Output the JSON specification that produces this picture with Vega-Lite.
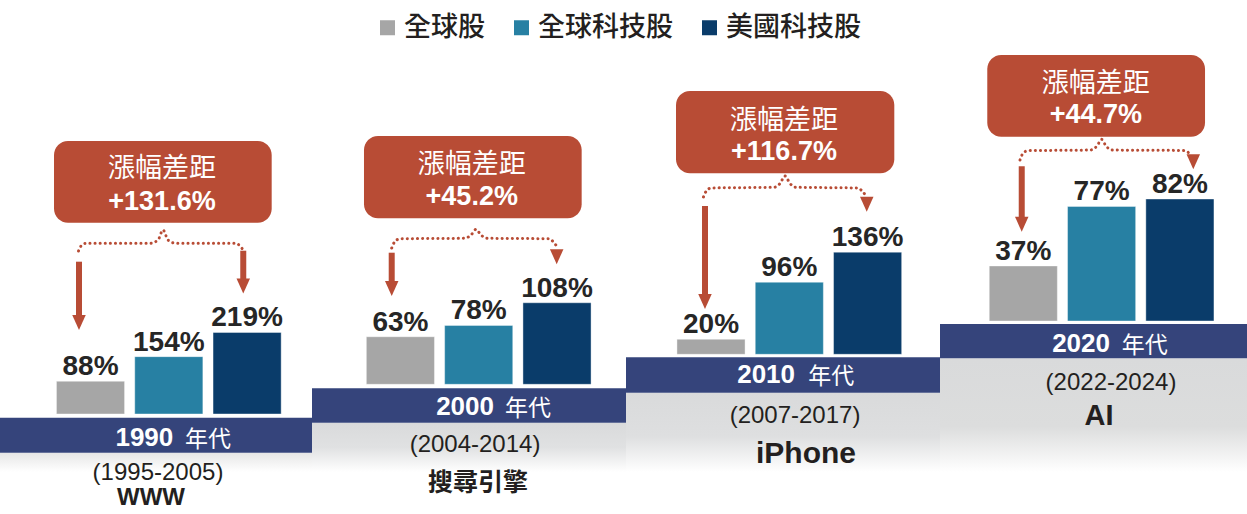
{
  "$schema": "https://vega.github.io/schema/vega-lite/v6.json",
  "padding": 0,
  "spacing": 0,
  "bounds": "flush",
  "background": "#ffffff",
  "config": {"view": {"stroke": null}},
  "datasets": {
    "bars": [
      {"era": "1990", "category": "全球股", "value": 0.88},
      {"era": "1990", "category": "全球科技股", "value": 1.54},
      {"era": "1990", "category": "美國科技股", "value": 2.19},
      {"era": "2000", "category": "全球股", "value": 0.63},
      {"era": "2000", "category": "全球科技股", "value": 0.78},
      {"era": "2000", "category": "美國科技股", "value": 1.08},
      {"era": "2010", "category": "全球股", "value": 0.20},
      {"era": "2010", "category": "全球科技股", "value": 0.96},
      {"era": "2010", "category": "美國科技股", "value": 1.36},
      {"era": "2020", "category": "全球股", "value": 0.37},
      {"era": "2020", "category": "全球科技股", "value": 0.77},
      {"era": "2020", "category": "美國科技股", "value": 0.82}
    ],
    "eras": [
      {"era": "1990", "period": "(1995-2005)", "theme": "WWW", "gap": 1.316},
      {"era": "2000", "period": "(2004-2014)", "theme": "搜尋引擎", "gap": 0.452},
      {"era": "2010", "period": "(2007-2017)", "theme": "iPhone", "gap": 1.167},
      {"era": "2020", "period": "(2022-2024)", "theme": "AI", "gap": 0.447}
    ]
  },
  "hconcat": [
    {
      "width": 312, "height": 514,
      "resolve": {"scale": {"x": "independent"}},
      "layer": [
        {"data": {"values": [{}]}, "mark": {"type": "rect", "fill": {"gradient": "linear", "x1": 0, "y1": 0, "x2": 0, "y2": 1, "stops": [{"offset": 0, "color": "#e6e6e6"}, {"offset": 1, "color": "#ffffff"}]}},
         "encoding": {"y": {"datum": -1.039, "type": "quantitative", "scale": {"domain": [-2.6853, 11.1171], "nice": false, "zero": false}, "axis": null}, "y2": {"datum": -1.557}}},
        {"data": {"values": [{}]}, "mark": {"type": "rect", "fill": "#35447b"},
         "encoding": {"y": {"datum": -0.0994, "type": "quantitative", "scale": {"domain": [-2.6853, 11.1171], "nice": false, "zero": false}, "axis": null}, "y2": {"datum": -1.039}}},
        {"data": {"name": "bars"}, "transform": [{"filter": "datum.era == '1990'"}],
         "encoding": {
           "x": {"field": "category", "type": "nominal", "sort": null, "scale": {"domain": ["全球股", "全球科技股", "美國科技股"], "paddingInner": 0.13, "paddingOuter": 0.5573, "align": 0.6467}, "axis": null},
           "y": {"field": "value", "type": "quantitative", "stack": null, "scale": {"domain": [-2.6853, 11.1171], "nice": false, "zero": false}, "axis": null}
         },
         "layer": [
           {"mark": {"type": "bar", "stroke": "#ffffff", "strokeWidth": 0.8, "strokeOpacity": 0.5},
            "encoding": {"color": {"field": "category", "type": "nominal", "scale": {"domain": ["全球股", "全球科技股", "美國科技股"], "range": ["#a6a6a6", "#2780a3", "#0a3c6a"]},
              "legend": {"orient": "none", "legendX": 374, "legendY": 14, "direction": "horizontal", "title": null, "symbolType": "square", "symbolSize": 225, "symbolStrokeWidth": 0, "symbolOpacity": 1, "labelFont": "Noto Sans CJK TC", "labelFontSize": 27, "labelFontWeight": 500, "labelColor": "#231f20", "labelOffset": 3, "columnPadding": 23, "padding": 0, "labelLimit": 0}}}},
           {"mark": {"type": "text", "dy": -6, "baseline": "alphabetic", "align": "center", "font": "Liberation Sans", "fontSize": 28, "fontWeight": "bold", "fill": "#262626"},
            "encoding": {"text": {"field": "value", "type": "quantitative", "format": ".0%"}}}
         ]},
        {"layer": [
          {"data": {"values": [{"s": 0.847, "p": 4.377}, {"s": 0.879, "p": 4.511}, {"s": 0.943, "p": 4.584}, {"s": 1.760, "p": 4.584}, {"s": 1.862, "p": 4.672}, {"s": 1.926, "p": 4.941}, {"s": 1.990, "p": 4.672}, {"s": 2.092, "p": 4.584}, {"s": 2.858, "p": 4.584}, {"s": 2.909, "p": 4.511}, {"s": 2.941, "p": 4.431}]},
           "mark": {"type": "line", "interpolate": "monotone", "stroke": "#b84c35", "strokeWidth": 3, "strokeDash": [0.1, 5], "strokeCap": "round"},
           "encoding": {"x": {"field": "s", "type": "quantitative", "scale": {"domain": [-0.1558, 3.8289], "nice": false, "zero": false}, "axis": null},
                        "y": {"field": "p", "type": "quantitative", "scale": {"domain": [-2.6853, 11.1171], "nice": false, "zero": false}, "axis": null}}},
          {"data": {"values": [{"s": 0.853, "from": 4.090, "to": 2.524}, {"s": 2.951, "from": 4.385, "to": 3.518}]},
           "mark": {"type": "rule", "stroke": "#b84c35", "strokeWidth": 6},
           "encoding": {"x": {"field": "s", "type": "quantitative", "scale": {"domain": [-0.1558, 3.8289], "nice": false, "zero": false}, "axis": null},
                        "y": {"field": "from", "type": "quantitative", "scale": {"domain": [-2.6853, 11.1171], "nice": false, "zero": false}, "axis": null}, "y2": {"field": "to"}}},
          {"data": {"values": [{"s": 0.853, "p": 2.457}, {"s": 2.951, "p": 3.437}]},
           "mark": {"type": "point", "shape": "M-0.9,-1L0.9,-1L0,1Z", "size": 225, "filled": true, "fill": "#b84c35", "strokeWidth": 0, "opacity": 1},
           "encoding": {"x": {"field": "s", "type": "quantitative", "scale": {"domain": [-0.1558, 3.8289], "nice": false, "zero": false}, "axis": null},
                        "y": {"field": "p", "type": "quantitative", "scale": {"domain": [-2.6853, 11.1171], "nice": false, "zero": false}, "axis": null}}},
          {"data": {"name": "eras"}, "transform": [{"filter": "datum.era == '1990'"}],
           "layer": [
             {"mark": {"type": "rect", "fill": "#b84c35", "cornerRadius": 14},
              "encoding": {"x": {"datum": 0.534, "type": "quantitative", "scale": {"domain": [-0.1558, 3.8289], "nice": false, "zero": false}, "axis": null}, "x2": {"datum": 3.314},
                           "y": {"datum": 7.331, "type": "quantitative", "scale": {"domain": [-2.6853, 11.1171], "nice": false, "zero": false}, "axis": null}, "y2": {"datum": 5.137}}},
             {"mark": {"type": "text", "font": "Noto Sans CJK TC", "fontSize": 27, "fill": "#ffffff", "align": "center", "baseline": "alphabetic"},
              "encoding": {"x": {"datum": 1.913, "type": "quantitative", "scale": {"domain": [-0.1558, 3.8289], "nice": false, "zero": false}, "axis": null},
                           "y": {"datum": 6.364, "type": "quantitative", "scale": {"domain": [-2.6853, 11.1171], "nice": false, "zero": false}, "axis": null}, "text": {"value": "漲幅差距"}}},
             {"mark": {"type": "text", "font": "Liberation Sans", "fontSize": 27, "fontWeight": "bold", "fill": "#ffffff", "align": "center", "baseline": "alphabetic"},
              "encoding": {"x": {"datum": 1.913, "type": "quantitative", "scale": {"domain": [-0.1558, 3.8289], "nice": false, "zero": false}, "axis": null},
                           "y": {"datum": 5.478, "type": "quantitative", "scale": {"domain": [-2.6853, 11.1171], "nice": false, "zero": false}, "axis": null}, "text": {"field": "gap", "type": "quantitative", "format": "+.1%"}}},
             {"mark": {"type": "text", "font": "Liberation Sans", "fontSize": 26, "fontWeight": "bold", "fill": "#ffffff", "align": "right", "baseline": "alphabetic"},
              "encoding": {"x": {"datum": 2.057, "type": "quantitative", "scale": {"domain": [-0.1558, 3.8289], "nice": false, "zero": false}, "axis": null},
                           "y": {"datum": -0.851, "type": "quantitative", "scale": {"domain": [-2.6853, 11.1171], "nice": false, "zero": false}, "axis": null}, "text": {"field": "era"}}},
             {"mark": {"type": "text", "font": "Noto Sans CJK TC", "fontSize": 23, "fill": "#ffffff", "align": "left", "baseline": "alphabetic"},
              "encoding": {"x": {"datum": 2.207, "type": "quantitative", "scale": {"domain": [-0.1558, 3.8289], "nice": false, "zero": false}, "axis": null},
                           "y": {"datum": -0.873, "type": "quantitative", "scale": {"domain": [-2.6853, 11.1171], "nice": false, "zero": false}, "axis": null}, "text": {"value": "年代"}}},
             {"mark": {"type": "text", "font": "Liberation Sans", "fontSize": 24, "fill": "#231f20", "align": "center", "baseline": "alphabetic"},
              "encoding": {"x": {"datum": 1.862, "type": "quantitative", "scale": {"domain": [-0.1558, 3.8289], "nice": false, "zero": false}, "axis": null},
                           "y": {"datum": -1.772, "type": "quantitative", "scale": {"domain": [-2.6853, 11.1171], "nice": false, "zero": false}, "axis": null}, "text": {"field": "period"}}},
             {"mark": {"type": "text", "font": "Liberation Sans, Noto Sans CJK TC", "fontSize": 24, "fontWeight": "bold", "fill": "#231f20", "align": "center", "baseline": "alphabetic"},
              "encoding": {"x": {"datum": 1.773, "type": "quantitative", "scale": {"domain": [-0.1558, 3.8289], "nice": false, "zero": false}, "axis": null},
                           "y": {"datum": -2.444, "type": "quantitative", "scale": {"domain": [-2.6853, 11.1171], "nice": false, "zero": false}, "axis": null}, "text": {"field": "theme"}}}
           ]}
        ]}
      ]
    },
    {
      "width": 314, "height": 514,
      "resolve": {"scale": {"x": "independent"}},
      "layer": [
        {"data": {"values": [{}]}, "mark": {"type": "rect", "fill": {"gradient": "linear", "x1": 0, "y1": 0, "x2": 0, "y2": 1, "stops": [{"offset": 0, "color": "#d9dadb"}, {"offset": 0.5, "color": "#e0e1e2"}, {"offset": 1, "color": "#ffffff"}]}},
         "encoding": {"y": {"datum": -0.5086, "type": "quantitative", "scale": {"domain": [-1.7179, 5.0901], "nice": false, "zero": false}, "axis": null}, "y2": {"datum": -1.162}}},
        {"data": {"values": [{}]}, "mark": {"type": "rect", "fill": "#35447b"},
         "encoding": {"y": {"datum": -0.0530, "type": "quantitative", "scale": {"domain": [-1.7179, 5.0901], "nice": false, "zero": false}, "axis": null}, "y2": {"datum": -0.5086}}},
        {"data": {"name": "bars"}, "transform": [{"filter": "datum.era == '2000'"}],
         "encoding": {
           "x": {"field": "category", "type": "nominal", "sort": null, "scale": {"domain": ["全球股", "全球科技股", "美國科技股"], "paddingInner": 0.13, "paddingOuter": 0.5701, "align": 0.6087}, "axis": null},
           "y": {"field": "value", "type": "quantitative", "stack": null, "scale": {"domain": [-1.7179, 5.0901], "nice": false, "zero": false}, "axis": null}
         },
         "layer": [
           {"mark": {"type": "bar", "stroke": "#ffffff", "strokeWidth": 0.8, "strokeOpacity": 0.5},
            "encoding": {"color": {"field": "category", "type": "nominal", "scale": {"domain": ["全球股", "全球科技股", "美國科技股"], "range": ["#a6a6a6", "#2780a3", "#0a3c6a"]},
              "legend": {"orient": "none", "legendX": 374, "legendY": 14, "direction": "horizontal", "title": null, "symbolType": "square", "symbolSize": 225, "symbolStrokeWidth": 0, "symbolOpacity": 1, "labelFont": "Noto Sans CJK TC", "labelFontSize": 27, "labelFontWeight": 500, "labelColor": "#231f20", "labelOffset": 3, "columnPadding": 23, "padding": 0, "labelLimit": 0}}}},
           {"mark": {"type": "text", "dy": -6, "baseline": "alphabetic", "align": "center", "font": "Liberation Sans", "fontSize": 28, "fontWeight": "bold", "fill": "#262626"},
            "encoding": {"text": {"field": "value", "type": "quantitative", "format": ".0%"}}}
         ]},
        {"layer": [
          {"data": {"values": [{"s": 0.889, "p": 1.805}, {"s": 0.925, "p": 1.885}, {"s": 0.995, "p": 1.927}, {"s": 1.812, "p": 1.934}, {"s": 1.902, "p": 1.977}, {"s": 1.966, "p": 2.053}, {"s": 2.029, "p": 1.977}, {"s": 2.119, "p": 1.934}, {"s": 2.898, "p": 1.927}, {"s": 2.955, "p": 1.885}, {"s": 2.994, "p": 1.832}]},
           "mark": {"type": "line", "interpolate": "monotone", "stroke": "#b84c35", "strokeWidth": 3, "strokeDash": [0.1, 5], "strokeCap": "round"},
           "encoding": {"x": {"field": "s", "type": "quantitative", "scale": {"domain": [-0.1290, 3.8812], "nice": false, "zero": false}, "axis": null},
                        "y": {"field": "p", "type": "quantitative", "scale": {"domain": [-1.7179, 5.0901], "nice": false, "zero": false}, "axis": null}}},
          {"data": {"values": [{"s": 0.889, "from": 1.743, "to": 1.342}]},
           "mark": {"type": "rule", "stroke": "#b84c35", "strokeWidth": 6},
           "encoding": {"x": {"field": "s", "type": "quantitative", "scale": {"domain": [-0.1290, 3.8812], "nice": false, "zero": false}, "axis": null},
                        "y": {"field": "from", "type": "quantitative", "scale": {"domain": [-1.7179, 5.0901], "nice": false, "zero": false}, "axis": null}, "y2": {"field": "to"}}},
          {"data": {"values": [{"s": 0.889, "p": 1.269}, {"s": 2.996, "p": 1.690}]},
           "mark": {"type": "point", "shape": "M-0.9,-1L0.9,-1L0,1Z", "size": 225, "filled": true, "fill": "#b84c35", "strokeWidth": 0, "opacity": 1},
           "encoding": {"x": {"field": "s", "type": "quantitative", "scale": {"domain": [-0.1290, 3.8812], "nice": false, "zero": false}, "axis": null},
                        "y": {"field": "p", "type": "quantitative", "scale": {"domain": [-1.7179, 5.0901], "nice": false, "zero": false}, "axis": null}}},
          {"data": {"name": "eras"}, "transform": [{"filter": "datum.era == '2000'"}],
           "layer": [
             {"mark": {"type": "rect", "fill": "#b84c35", "cornerRadius": 14},
              "encoding": {"x": {"datum": 0.535, "type": "quantitative", "scale": {"domain": [-0.1290, 3.8812], "nice": false, "zero": false}, "axis": null}, "x2": {"datum": 3.315},
                           "y": {"datum": 3.289, "type": "quantitative", "scale": {"domain": [-1.7179, 5.0901], "nice": false, "zero": false}, "axis": null}, "y2": {"datum": 2.199}}},
             {"mark": {"type": "text", "font": "Noto Sans CJK TC", "fontSize": 27, "fill": "#ffffff", "align": "center", "baseline": "alphabetic"},
              "encoding": {"x": {"datum": 1.911, "type": "quantitative", "scale": {"domain": [-0.1290, 3.8812], "nice": false, "zero": false}, "axis": null},
                           "y": {"datum": 2.805, "type": "quantitative", "scale": {"domain": [-1.7179, 5.0901], "nice": false, "zero": false}, "axis": null}, "text": {"value": "漲幅差距"}}},
             {"mark": {"type": "text", "font": "Liberation Sans", "fontSize": 27, "fontWeight": "bold", "fill": "#ffffff", "align": "center", "baseline": "alphabetic"},
              "encoding": {"x": {"datum": 1.911, "type": "quantitative", "scale": {"domain": [-0.1290, 3.8812], "nice": false, "zero": false}, "axis": null},
                           "y": {"datum": 2.375, "type": "quantitative", "scale": {"domain": [-1.7179, 5.0901], "nice": false, "zero": false}, "axis": null}, "text": {"field": "gap", "type": "quantitative", "format": "+.1%"}}},
             {"mark": {"type": "text", "font": "Liberation Sans", "fontSize": 26, "fontWeight": "bold", "fill": "#ffffff", "align": "right", "baseline": "alphabetic"},
              "encoding": {"x": {"datum": 2.195, "type": "quantitative", "scale": {"domain": [-0.1290, 3.8812], "nice": false, "zero": false}, "axis": null},
                           "y": {"datum": -0.407, "type": "quantitative", "scale": {"domain": [-1.7179, 5.0901], "nice": false, "zero": false}, "axis": null}, "text": {"field": "era"}}},
             {"mark": {"type": "text", "font": "Noto Sans CJK TC", "fontSize": 23, "fill": "#ffffff", "align": "left", "baseline": "alphabetic"},
              "encoding": {"x": {"datum": 2.336, "type": "quantitative", "scale": {"domain": [-0.1290, 3.8812], "nice": false, "zero": false}, "axis": null},
                           "y": {"datum": -0.420, "type": "quantitative", "scale": {"domain": [-1.7179, 5.0901], "nice": false, "zero": false}, "axis": null}, "text": {"value": "年代"}}},
             {"mark": {"type": "text", "font": "Liberation Sans", "fontSize": 24, "fill": "#231f20", "align": "center", "baseline": "alphabetic"},
              "encoding": {"x": {"datum": 1.953, "type": "quantitative", "scale": {"domain": [-0.1290, 3.8812], "nice": false, "zero": false}, "axis": null},
                           "y": {"datum": -0.897, "type": "quantitative", "scale": {"domain": [-1.7179, 5.0901], "nice": false, "zero": false}, "axis": null}, "text": {"field": "period"}}},
             {"mark": {"type": "text", "font": "Noto Sans CJK TC", "fontSize": 25, "fontWeight": "bold", "fill": "#231f20", "align": "center", "baseline": "alphabetic"},
              "encoding": {"x": {"datum": 1.991, "type": "quantitative", "scale": {"domain": [-0.1290, 3.8812], "nice": false, "zero": false}, "axis": null},
                           "y": {"datum": -1.407, "type": "quantitative", "scale": {"domain": [-1.7179, 5.0901], "nice": false, "zero": false}, "axis": null}, "text": {"field": "theme"}}}
           ]}
        ]}
      ]
    },
    {
      "width": 314, "height": 514,
      "resolve": {"scale": {"x": "independent"}},
      "layer": [
        {"data": {"values": [{}]}, "mark": {"type": "rect", "fill": {"gradient": "linear", "x1": 0, "y1": 0, "x2": 0, "y2": 1, "stops": [{"offset": 0, "color": "#d9dadb"}, {"offset": 0.55, "color": "#dedfe0"}, {"offset": 1, "color": "#ffffff"}]}},
         "encoding": {"y": {"datum": -0.511, "type": "quantitative", "scale": {"domain": [-2.1265, 4.7177], "nice": false, "zero": false}, "axis": null}, "y2": {"datum": -1.567}}},
        {"data": {"values": [{}]}, "mark": {"type": "rect", "fill": "#35447b"},
         "encoding": {"y": {"datum": -0.040, "type": "quantitative", "scale": {"domain": [-2.1265, 4.7177], "nice": false, "zero": false}, "axis": null}, "y2": {"datum": -0.511}}},
        {"data": {"name": "bars"}, "transform": [{"filter": "datum.era == '2010'"}],
         "encoding": {
           "x": {"field": "category", "type": "nominal", "sort": null, "scale": {"domain": ["全球股", "全球科技股", "美國科技股"], "paddingInner": 0.13, "paddingOuter": 0.5701, "align": 0.5706}, "axis": null},
           "y": {"field": "value", "type": "quantitative", "stack": null, "scale": {"domain": [-2.1265, 4.7177], "nice": false, "zero": false}, "axis": null}
         },
         "layer": [
           {"mark": {"type": "bar", "stroke": "#ffffff", "strokeWidth": 0.8, "strokeOpacity": 0.5},
            "encoding": {"color": {"field": "category", "type": "nominal", "scale": {"domain": ["全球股", "全球科技股", "美國科技股"], "range": ["#a6a6a6", "#2780a3", "#0a3c6a"]},
              "legend": {"orient": "none", "legendX": 374, "legendY": 14, "direction": "horizontal", "title": null, "symbolType": "square", "symbolSize": 225, "symbolStrokeWidth": 0, "symbolOpacity": 1, "labelFont": "Noto Sans CJK TC", "labelFontSize": 27, "labelFontWeight": 500, "labelColor": "#231f20", "labelOffset": 3, "columnPadding": 23, "padding": 0, "labelLimit": 0}}}},
           {"mark": {"type": "text", "dy": -6, "baseline": "alphabetic", "align": "center", "font": "Liberation Sans", "fontSize": 28, "fontWeight": "bold", "fill": "#262626"},
            "encoding": {"text": {"field": "value", "type": "quantitative", "format": ".0%"}}}
         ]},
        {"layer": [
          {"data": {"values": [{"s": 0.904, "p": 2.095}, {"s": 0.936, "p": 2.168}, {"s": 1.000, "p": 2.214}, {"s": 1.805, "p": 2.224}, {"s": 1.881, "p": 2.274}, {"s": 1.945, "p": 2.374}, {"s": 2.009, "p": 2.274}, {"s": 2.086, "p": 2.224}, {"s": 2.877, "p": 2.214}, {"s": 2.935, "p": 2.168}, {"s": 2.973, "p": 2.121}]},
           "mark": {"type": "line", "interpolate": "monotone", "stroke": "#b84c35", "strokeWidth": 3, "strokeDash": [0.1, 5], "strokeCap": "round"},
           "encoding": {"x": {"field": "s", "type": "quantitative", "scale": {"domain": [-0.0856, 3.9246], "nice": false, "zero": false}, "axis": null},
                        "y": {"field": "p", "type": "quantitative", "scale": {"domain": [-2.1265, 4.7177], "nice": false, "zero": false}, "axis": null}}},
          {"data": {"values": [{"s": 0.923, "from": 1.975, "to": 0.776}]},
           "mark": {"type": "rule", "stroke": "#b84c35", "strokeWidth": 6},
           "encoding": {"x": {"field": "s", "type": "quantitative", "scale": {"domain": [-0.0856, 3.9246], "nice": false, "zero": false}, "axis": null},
                        "y": {"field": "from", "type": "quantitative", "scale": {"domain": [-2.1265, 4.7177], "nice": false, "zero": false}, "axis": null}, "y2": {"field": "to"}}},
          {"data": {"values": [{"s": 0.923, "p": 0.703}, {"s": 2.989, "p": 1.997}]},
           "mark": {"type": "point", "shape": "M-0.9,-1L0.9,-1L0,1Z", "size": 225, "filled": true, "fill": "#b84c35", "strokeWidth": 0, "opacity": 1},
           "encoding": {"x": {"field": "s", "type": "quantitative", "scale": {"domain": [-0.0856, 3.9246], "nice": false, "zero": false}, "axis": null},
                        "y": {"field": "p", "type": "quantitative", "scale": {"domain": [-2.1265, 4.7177], "nice": false, "zero": false}, "axis": null}}},
          {"data": {"name": "eras"}, "transform": [{"filter": "datum.era == '2010'"}],
           "layer": [
             {"mark": {"type": "rect", "fill": "#b84c35", "cornerRadius": 14},
              "encoding": {"x": {"datum": 0.553, "type": "quantitative", "scale": {"domain": [-0.0856, 3.9246], "nice": false, "zero": false}, "axis": null}, "x2": {"datum": 3.341},
                           "y": {"datum": 3.506, "type": "quantitative", "scale": {"domain": [-2.1265, 4.7177], "nice": false, "zero": false}, "axis": null}, "y2": {"datum": 2.410}}},
             {"mark": {"type": "text", "font": "Noto Sans CJK TC", "fontSize": 27, "fill": "#ffffff", "align": "center", "baseline": "alphabetic"},
              "encoding": {"x": {"datum": 1.932, "type": "quantitative", "scale": {"domain": [-0.0856, 3.9246], "nice": false, "zero": false}, "axis": null},
                           "y": {"datum": 3.000, "type": "quantitative", "scale": {"domain": [-2.1265, 4.7177], "nice": false, "zero": false}, "axis": null}, "text": {"value": "漲幅差距"}}},
             {"mark": {"type": "text", "font": "Liberation Sans", "fontSize": 27, "fontWeight": "bold", "fill": "#ffffff", "align": "center", "baseline": "alphabetic"},
              "encoding": {"x": {"datum": 1.932, "type": "quantitative", "scale": {"domain": [-0.0856, 3.9246], "nice": false, "zero": false}, "axis": null},
                           "y": {"datum": 2.587, "type": "quantitative", "scale": {"domain": [-2.1265, 4.7177], "nice": false, "zero": false}, "axis": null}, "text": {"field": "gap", "type": "quantitative", "format": "+.1%"}}},
             {"mark": {"type": "text", "font": "Liberation Sans", "fontSize": 26, "fontWeight": "bold", "fill": "#ffffff", "align": "right", "baseline": "alphabetic"},
              "encoding": {"x": {"datum": 2.073, "type": "quantitative", "scale": {"domain": [-0.0856, 3.9246], "nice": false, "zero": false}, "axis": null},
                           "y": {"datum": -0.378, "type": "quantitative", "scale": {"domain": [-2.1265, 4.7177], "nice": false, "zero": false}, "axis": null}, "text": {"field": "era"}}},
             {"mark": {"type": "text", "font": "Noto Sans CJK TC", "fontSize": 23, "fill": "#ffffff", "align": "left", "baseline": "alphabetic"},
              "encoding": {"x": {"datum": 2.243, "type": "quantitative", "scale": {"domain": [-0.0856, 3.9246], "nice": false, "zero": false}, "axis": null},
                           "y": {"datum": -0.391, "type": "quantitative", "scale": {"domain": [-2.1265, 4.7177], "nice": false, "zero": false}, "axis": null}, "text": {"value": "年代"}}},
             {"mark": {"type": "text", "font": "Liberation Sans", "fontSize": 24, "fill": "#231f20", "align": "center", "baseline": "alphabetic"},
              "encoding": {"x": {"datum": 2.073, "type": "quantitative", "scale": {"domain": [-0.0856, 3.9246], "nice": false, "zero": false}, "axis": null},
                           "y": {"datum": -0.915, "type": "quantitative", "scale": {"domain": [-2.1265, 4.7177], "nice": false, "zero": false}, "axis": null}, "text": {"field": "period"}}},
             {"mark": {"type": "text", "font": "Liberation Sans", "fontSize": 30, "fontWeight": "bold", "fill": "#231f20", "align": "center", "baseline": "alphabetic"},
              "encoding": {"x": {"datum": 2.213, "type": "quantitative", "scale": {"domain": [-0.0856, 3.9246], "nice": false, "zero": false}, "axis": null},
                           "y": {"datum": -1.447, "type": "quantitative", "scale": {"domain": [-2.1265, 4.7177], "nice": false, "zero": false}, "axis": null}, "text": {"field": "theme"}}}
           ]}
        ]}
      ]
    },
    {
      "width": 307, "height": 514,
      "resolve": {"scale": {"x": "independent"}},
      "layer": [
        {"data": {"values": [{}]}, "mark": {"type": "rect", "fill": {"gradient": "linear", "x1": 0, "y1": 0, "x2": 0, "y2": 1, "stops": [{"offset": 0, "color": "#d9dadb"}, {"offset": 0.6, "color": "#dcdddd"}, {"offset": 1, "color": "#ffffff"}]}},
         "encoding": {"y": {"datum": -0.2507, "type": "quantitative", "scale": {"domain": [-1.2970, 2.1573], "nice": false, "zero": false}, "axis": null}, "y2": {"datum": -1.015}}},
        {"data": {"values": [{}]}, "mark": {"type": "rect", "fill": "#35447b"},
         "encoding": {"y": {"datum": -0.0202, "type": "quantitative", "scale": {"domain": [-1.2970, 2.1573], "nice": false, "zero": false}, "axis": null}, "y2": {"datum": -0.2507}}},
        {"data": {"name": "bars"}, "transform": [{"filter": "datum.era == '2020'"}],
         "encoding": {
           "x": {"field": "category", "type": "nominal", "sort": null, "scale": {"domain": ["全球股", "全球科技股", "美國科技股"], "paddingInner": 0.13, "paddingOuter": 0.5254, "align": 0.5984}, "axis": null},
           "y": {"field": "value", "type": "quantitative", "stack": null, "scale": {"domain": [-1.2970, 2.1573], "nice": false, "zero": false}, "axis": null}
         },
         "layer": [
           {"mark": {"type": "bar", "stroke": "#ffffff", "strokeWidth": 0.8, "strokeOpacity": 0.5},
            "encoding": {"color": {"field": "category", "type": "nominal", "scale": {"domain": ["全球股", "全球科技股", "美國科技股"], "range": ["#a6a6a6", "#2780a3", "#0a3c6a"]},
              "legend": {"orient": "none", "legendX": 374, "legendY": 14, "direction": "horizontal", "title": null, "symbolType": "square", "symbolSize": 225, "symbolStrokeWidth": 0, "symbolOpacity": 1, "labelFont": "Noto Sans CJK TC", "labelFontSize": 27, "labelFontWeight": 500, "labelColor": "#231f20", "labelOffset": 3, "columnPadding": 23, "padding": 0, "labelLimit": 0}}}},
           {"mark": {"type": "text", "dy": -6, "baseline": "alphabetic", "align": "center", "font": "Liberation Sans", "fontSize": 28, "fontWeight": "bold", "fill": "#262626"},
            "encoding": {"text": {"field": "value", "type": "quantitative", "format": ".0%"}}}
         ]},
        {"layer": [
          {"data": {"values": [{"s": 0.958, "p": 1.082}, {"s": 0.990, "p": 1.122}, {"s": 1.060, "p": 1.145}, {"s": 1.852, "p": 1.149}, {"s": 1.941, "p": 1.176}, {"s": 2.001, "p": 1.221}, {"s": 2.056, "p": 1.176}, {"s": 2.145, "p": 1.149}, {"s": 3.052, "p": 1.146}, {"s": 3.110, "p": 1.132}, {"s": 3.155, "p": 1.116}]},
           "mark": {"type": "line", "interpolate": "monotone", "stroke": "#b84c35", "strokeWidth": 3, "strokeDash": [0.1, 5], "strokeCap": "round"},
           "encoding": {"x": {"field": "s", "type": "quantitative", "scale": {"domain": [-0.0638, 3.8570], "nice": false, "zero": false}, "axis": null},
                        "y": {"field": "p", "type": "quantitative", "scale": {"domain": [-1.2970, 2.1573], "nice": false, "zero": false}, "axis": null}}},
          {"data": {"values": [{"s": 0.980, "from": 1.040, "to": 0.692}]},
           "mark": {"type": "rule", "stroke": "#b84c35", "strokeWidth": 6},
           "encoding": {"x": {"field": "s", "type": "quantitative", "scale": {"domain": [-0.0638, 3.8570], "nice": false, "zero": false}, "axis": null},
                        "y": {"field": "from", "type": "quantitative", "scale": {"domain": [-1.2970, 2.1573], "nice": false, "zero": false}, "axis": null}, "y2": {"field": "to"}}},
          {"data": {"values": [{"s": 0.980, "p": 0.651}, {"s": 3.171, "p": 1.070}]},
           "mark": {"type": "point", "shape": "M-0.9,-1L0.9,-1L0,1Z", "size": 225, "filled": true, "fill": "#b84c35", "strokeWidth": 0, "opacity": 1},
           "encoding": {"x": {"field": "s", "type": "quantitative", "scale": {"domain": [-0.0638, 3.8570], "nice": false, "zero": false}, "axis": null},
                        "y": {"field": "p", "type": "quantitative", "scale": {"domain": [-1.2970, 2.1573], "nice": false, "zero": false}, "axis": null}}},
          {"data": {"name": "eras"}, "transform": [{"filter": "datum.era == '2020'"}],
           "layer": [
             {"mark": {"type": "rect", "fill": "#b84c35", "cornerRadius": 14},
              "encoding": {"x": {"datum": 0.540, "type": "quantitative", "scale": {"domain": [-0.0638, 3.8570], "nice": false, "zero": false}, "axis": null}, "x2": {"datum": 3.321},
                           "y": {"datum": 1.788, "type": "quantitative", "scale": {"domain": [-1.2970, 2.1573], "nice": false, "zero": false}, "axis": null}, "y2": {"datum": 1.239}}},
             {"mark": {"type": "text", "font": "Noto Sans CJK TC", "fontSize": 27, "fill": "#ffffff", "align": "center", "baseline": "alphabetic"},
              "encoding": {"x": {"datum": 1.926, "type": "quantitative", "scale": {"domain": [-0.0638, 3.8570], "nice": false, "zero": false}, "axis": null},
                           "y": {"datum": 1.536, "type": "quantitative", "scale": {"domain": [-1.2970, 2.1573], "nice": false, "zero": false}, "axis": null}, "text": {"value": "漲幅差距"}}},
             {"mark": {"type": "text", "font": "Liberation Sans", "fontSize": 27, "fontWeight": "bold", "fill": "#ffffff", "align": "center", "baseline": "alphabetic"},
              "encoding": {"x": {"datum": 1.926, "type": "quantitative", "scale": {"domain": [-0.0638, 3.8570], "nice": false, "zero": false}, "axis": null},
                           "y": {"datum": 1.329, "type": "quantitative", "scale": {"domain": [-1.2970, 2.1573], "nice": false, "zero": false}, "axis": null}, "text": {"field": "gap", "type": "quantitative", "format": "+.1%"}}},
             {"mark": {"type": "text", "font": "Liberation Sans", "fontSize": 26, "fontWeight": "bold", "fill": "#ffffff", "align": "right", "baseline": "alphabetic"},
              "encoding": {"x": {"datum": 2.107, "type": "quantitative", "scale": {"domain": [-0.0638, 3.8570], "nice": false, "zero": false}, "axis": null},
                           "y": {"datum": -0.206, "type": "quantitative", "scale": {"domain": [-1.2970, 2.1573], "nice": false, "zero": false}, "axis": null}, "text": {"field": "era"}}},
             {"mark": {"type": "text", "font": "Noto Sans CJK TC", "fontSize": 23, "fill": "#ffffff", "align": "left", "baseline": "alphabetic"},
              "encoding": {"x": {"datum": 2.257, "type": "quantitative", "scale": {"domain": [-0.0638, 3.8570], "nice": false, "zero": false}, "axis": null},
                           "y": {"datum": -0.212, "type": "quantitative", "scale": {"domain": [-1.2970, 2.1573], "nice": false, "zero": false}, "axis": null}, "text": {"value": "年代"}}},
             {"mark": {"type": "text", "font": "Liberation Sans", "fontSize": 24, "fill": "#231f20", "align": "center", "baseline": "alphabetic"},
              "encoding": {"x": {"datum": 2.120, "type": "quantitative", "scale": {"domain": [-0.0638, 3.8570], "nice": false, "zero": false}, "axis": null},
                           "y": {"datum": -0.464, "type": "quantitative", "scale": {"domain": [-1.2970, 2.1573], "nice": false, "zero": false}, "axis": null}, "text": {"field": "period"}}},
             {"mark": {"type": "text", "font": "Liberation Sans", "fontSize": 29, "fontWeight": "bold", "fill": "#231f20", "align": "center", "baseline": "alphabetic"},
              "encoding": {"x": {"datum": 1.967, "type": "quantitative", "scale": {"domain": [-0.0638, 3.8570], "nice": false, "zero": false}, "axis": null},
                           "y": {"datum": -0.699, "type": "quantitative", "scale": {"domain": [-1.2970, 2.1573], "nice": false, "zero": false}, "axis": null}, "text": {"field": "theme"}}}
           ]}
        ]}
      ]
    }
  ]
}
